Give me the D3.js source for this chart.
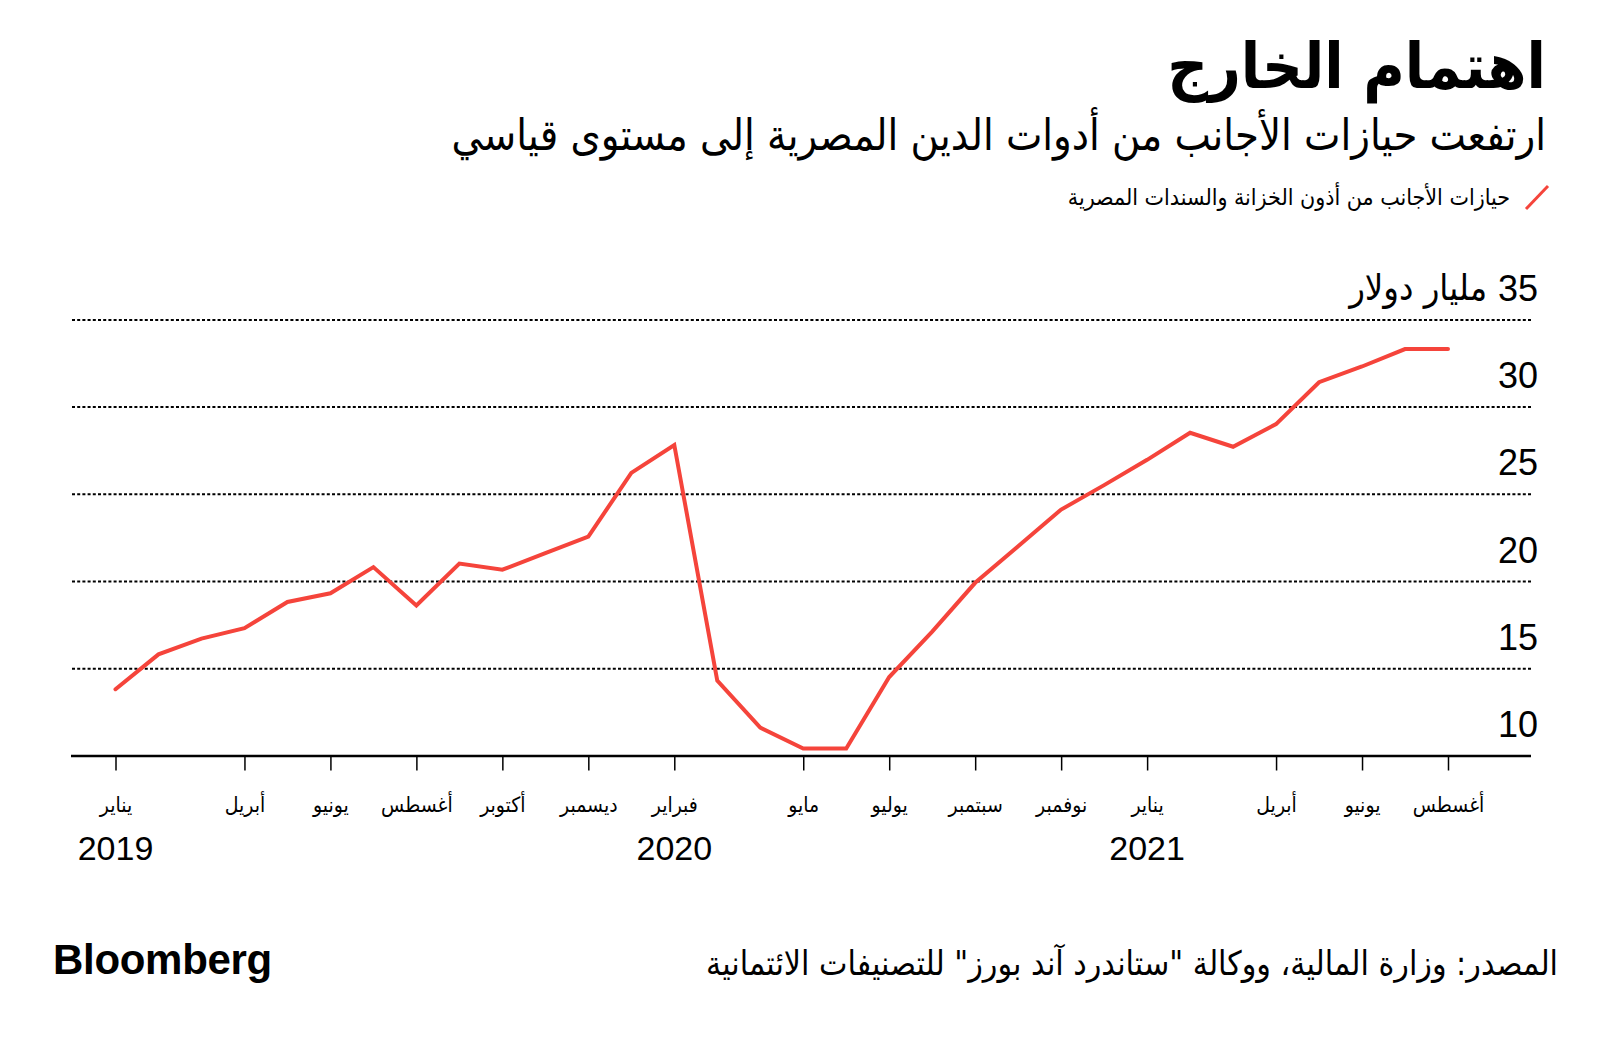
<!DOCTYPE html>
<html>
<head>
	<meta http-equiv="Content-Type" content="text/html; charset=utf-8"/>
	<title>اهتمام الخارج</title>
	<style>
		body { margin: 0; background: #fff; }
		svg { display: block; }
		.ar { font-family: "DejaVu Sans Condensed", "DejaVu Sans", sans-serif; fill: #000; }
		.num { font-family: "Liberation Sans", Arial, sans-serif; fill: #000; }
	</style>
</head>
<body>
	<svg width="1600" height="1040" id="viz"></svg>

	<script src="https://d3js.org/d3.v7.min.js"></script>
	<script>

		//Datos: tenencias mensuales (miles de millones de USD)
		var meses = ["2019-01","2019-02","2019-03","2019-04","2019-05","2019-06","2019-07","2019-08",
			"2019-09","2019-10","2019-11","2019-12","2020-01","2020-02","2020-03","2020-04",
			"2020-05","2020-06","2020-07","2020-08","2020-09","2020-10","2020-11","2020-12",
			"2021-01","2021-02","2021-03","2021-04","2021-05","2021-06","2021-07","2021-08"];
		var tenencias = [13.8, 15.8, 16.7, 17.3, 18.8, 19.3, 20.8, 18.6,
			21.0, 20.65, 21.6, 22.55, 26.2, 27.8, 14.3, 11.6,
			10.4, 10.4, 14.5, 17.1, 19.9, 22.0, 24.1, 25.5,
			26.95, 28.5, 27.7, 29.0, 31.4, 32.3, 33.3, 33.3];

		//Ticks del eje x
		var mesesTick = ["2019-01","2019-04","2019-06","2019-08","2019-10","2019-12","2020-02","2020-05",
			"2020-07","2020-09","2020-11","2021-01","2021-04","2021-06","2021-08"];
		var etiquetasTick = ["يناير","أبريل","يونيو","أغسطس","أكتوبر","ديسمبر","فبراير","مايو",
			"يوليو","سبتمبر","نوفمبر","يناير","أبريل","يونيو","أغسطس"];
		var anios = ["2019","2020","2021"];
		var aniosEn = ["2019-01","2020-02","2021-01"];

		//Ticks del eje y
		var yTicks = [10, 15, 20, 25, 30, 35];
		var unidad = "مليار دولار";

		var titulo = "اهتمام الخارج";
		var subtitulo = "ارتفعت حيازات الأجانب من أدوات الدين المصرية إلى مستوى قياسي";
		var leyenda = "حيازات الأجانب من أذون الخزانة والسندات المصرية";
		var fuente = "المصدر: وزارة المالية، ووكالة \"ستاندرد آند بورز\" للتصنيفات الائتمانية";

		var datos = meses.map((m, i) => ({mes: m, valor: tenencias[i]}));

		//Escalas
		const left = 71, right = 1531;
		const x = d3.scalePoint().domain(meses).range([115.5, 1448]);
		const y = d3.scaleLinear().domain([10, 35]).range([755.5, 319.4]);

		var svg = d3.select("#viz");

		//Titulos
		svg.append("text").attr("class", "ar")
			.attr("x", 1546).attr("y", 88)
			.attr("text-anchor", "end")
			.style("font-size", "63px").style("font-weight", "bold")
			.text(titulo);

		svg.append("text").attr("class", "ar")
			.attr("x", 1546).attr("y", 150)
			.attr("text-anchor", "end")
			.style("font-size", "43px")
			.text(subtitulo);

		//Leyenda
		svg.append("line")
			.attr("x1", 1526).attr("y1", 209).attr("x2", 1548).attr("y2", 186)
			.attr("stroke", "#f5443b").attr("stroke-width", 3);
		svg.append("text").attr("class", "ar")
			.attr("x", 1510).attr("y", 205)
			.attr("text-anchor", "end")
			.style("font-size", "23px")
			.text(leyenda);

		//Eje y con lineas punteadas
		const gy = svg.append("g")
			.attr("transform", `translate(${right},0)`)
			.call(d3.axisLeft(y).tickValues(yTicks).tickSize(right - left).tickFormat(d => d));
		gy.select(".domain").remove();
		gy.attr("font-family", null).attr("font-size", null);
		gy.selectAll(".tick line")
			.attr("stroke", "#000")
			.attr("stroke-width", d => d === 10 ? 2.5 : 2)
			.attr("stroke-dasharray", d => d === 10 ? null : "3,2.2");
		gy.selectAll(".tick text")
			.attr("class", "num")
			.attr("x", 7).attr("dy", -19)
			.attr("text-anchor", "end")
			.style("font-size", "36px");

		svg.append("text").attr("class", "ar")
			.attr("x", 1487).attr("y", y(35) - 19)
			.attr("text-anchor", "end")
			.style("font-size", "36px")
			.text(unidad);

		//Eje x
		const gx = svg.append("g")
			.attr("transform", `translate(0,${y(10)})`)
			.call(d3.axisBottom(x).tickValues(mesesTick).tickSize(15)
				.tickFormat((d, i) => etiquetasTick[i]));
		gx.select(".domain").remove();
		gx.attr("font-family", null).attr("font-size", null);
		gx.selectAll(".tick line").attr("stroke", "#000").attr("stroke-width", 1.5);
		gx.selectAll(".tick text")
			.attr("class", "ar")
			.attr("y", 56).attr("dy", null)
			.style("font-size", "21px");

		svg.selectAll(".anio")
			.data(anios)
			.enter().append("text")
			.attr("class", "num anio")
			.attr("x", (d, i) => x(aniosEn[i]))
			.attr("y", 860)
			.attr("text-anchor", "middle")
			.style("font-size", "34px")
			.text(d => d);

		//Linea
		svg.append("path")
			.datum(datos)
			.attr("fill", "none")
			.attr("stroke", "#f5443b")
			.attr("stroke-width", 4)
			.attr("stroke-linejoin", "miter")
			.attr("stroke-linecap", "round")
			.attr("d", d3.line().x(d => x(d.mes)).y(d => y(d.valor)));

		//Fuente y logo
		svg.append("text").attr("class", "ar")
			.attr("x", 1558).attr("y", 975)
			.attr("text-anchor", "end")
			.style("font-size", "33.6px")
			.text(fuente);

		svg.append("text")
			.attr("x", 53).attr("y", 974)
			.style("font-family", "'Liberation Sans', Arial, sans-serif")
			.style("font-weight", "bold")
			.style("font-size", "42px")
			.style("letter-spacing", "-0.3px")
			.text("Bloomberg");

	</script>
</body>
</html>
